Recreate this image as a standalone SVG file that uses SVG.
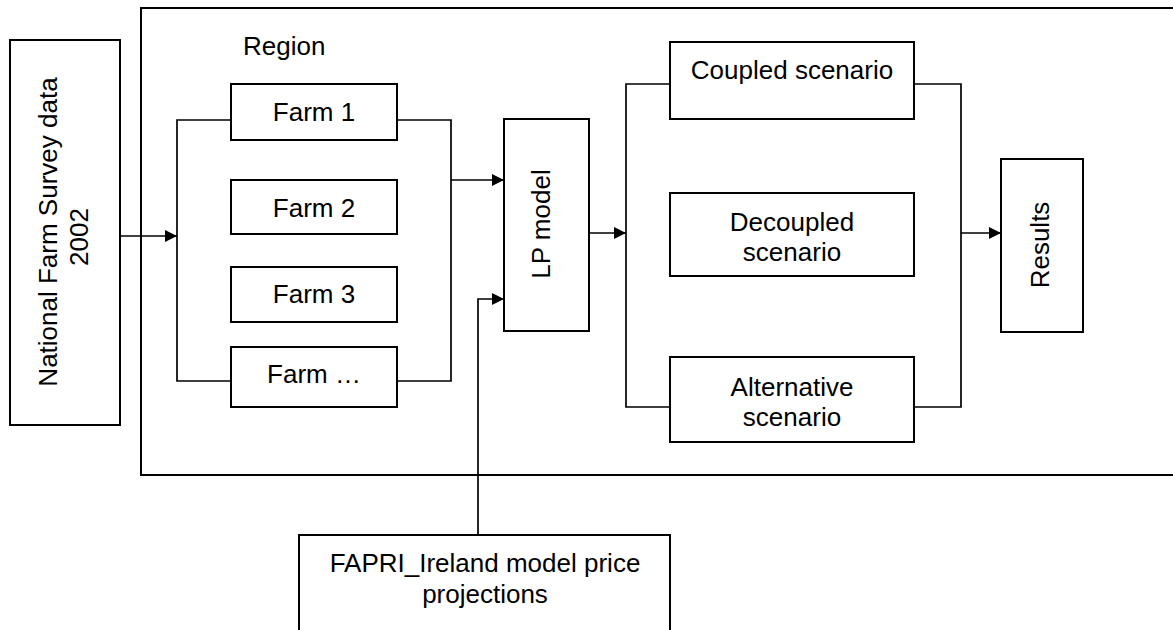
<svg xmlns="http://www.w3.org/2000/svg" width="1173" height="630" viewBox="0 0 1173 630">
<style>
.box{fill:#fff;stroke:#000;stroke-width:2}
.frame{fill:none;stroke:#000;stroke-width:2}
.conn{fill:none;stroke:#000;stroke-width:1.7}
text{font-family:"Liberation Sans",Arial,sans-serif;font-size:26px;fill:#000}
.c{text-anchor:middle}
</style>
<defs>
<marker id="arr" markerWidth="12" markerHeight="12" refX="12" refY="6" orient="auto" markerUnits="userSpaceOnUse">
<path d="M0,0 L12,6 L0,12 Z" fill="#000"/>
</marker>
</defs>
<rect width="1173" height="630" fill="#fff"/>
<g id="region">
<rect class="frame" x="141" y="8" width="1040" height="467"/>
<text x="243" y="55">Region</text>
</g>
<g id="connectors">
<path class="conn" d="M120,236 H177" marker-end="url(#arr)"/>
<path class="conn" d="M231,120 H177 V381 H231"/>
<path class="conn" d="M397,120 H451 V381 H397"/>
<path class="conn" d="M451,180 H504" marker-end="url(#arr)"/>
<path class="conn" d="M478,535 V299 H504" marker-end="url(#arr)"/>
<path class="conn" d="M589,233 H626" marker-end="url(#arr)"/>
<path class="conn" d="M670,84 H626 V407 H670"/>
<path class="conn" d="M914,84 H961 V407 H914"/>
<path class="conn" d="M961,233 H1001" marker-end="url(#arr)"/>
</g>
<g id="national">
<rect class="box" x="10" y="40" width="110" height="385"/>
<text class="c" transform="translate(57,232) rotate(-90)">National Farm Survey data</text>
<text class="c" transform="translate(88,237) rotate(-90)">2002</text>
</g>
<g id="farm1">
<rect class="box" x="231" y="84" width="166" height="56"/>
<text class="c" x="314" y="121">Farm 1</text>
</g>
<g id="farm2">
<rect class="box" x="231" y="180" width="166" height="54"/>
<text class="c" x="314" y="217">Farm 2</text>
</g>
<g id="farm3">
<rect class="box" x="231" y="267" width="166" height="55"/>
<text class="c" x="314" y="303">Farm 3</text>
</g>
<g id="farmn">
<rect class="box" x="231" y="347" width="166" height="60"/>
<text class="c" x="314" y="383">Farm …</text>
</g>
<g id="lpmodel">
<rect class="box" x="504" y="119" width="85" height="212"/>
<text class="c" transform="translate(550,224) rotate(-90)">LP model</text>
</g>
<g id="coupled">
<rect class="box" x="670" y="42" width="244" height="77"/>
<text class="c" x="792" y="79">Coupled scenario</text>
</g>
<g id="decoupled">
<rect class="box" x="670" y="193" width="244" height="83"/>
<text class="c" x="792" y="231">Decoupled</text>
<text class="c" x="792" y="261">scenario</text>
</g>
<g id="alternative">
<rect class="box" x="670" y="357" width="244" height="85"/>
<text class="c" x="792" y="396">Alternative</text>
<text class="c" x="792" y="426">scenario</text>
</g>
<g id="results">
<rect class="box" x="1001" y="159" width="82" height="173"/>
<text class="c" transform="translate(1049,245) rotate(-90)">Results</text>
</g>
<g id="fapri">
<rect class="box" x="299" y="535" width="371" height="110"/>
<text class="c" x="485" y="572">FAPRI_Ireland model price</text>
<text class="c" x="485" y="603">projections</text>
</g>
</svg>
